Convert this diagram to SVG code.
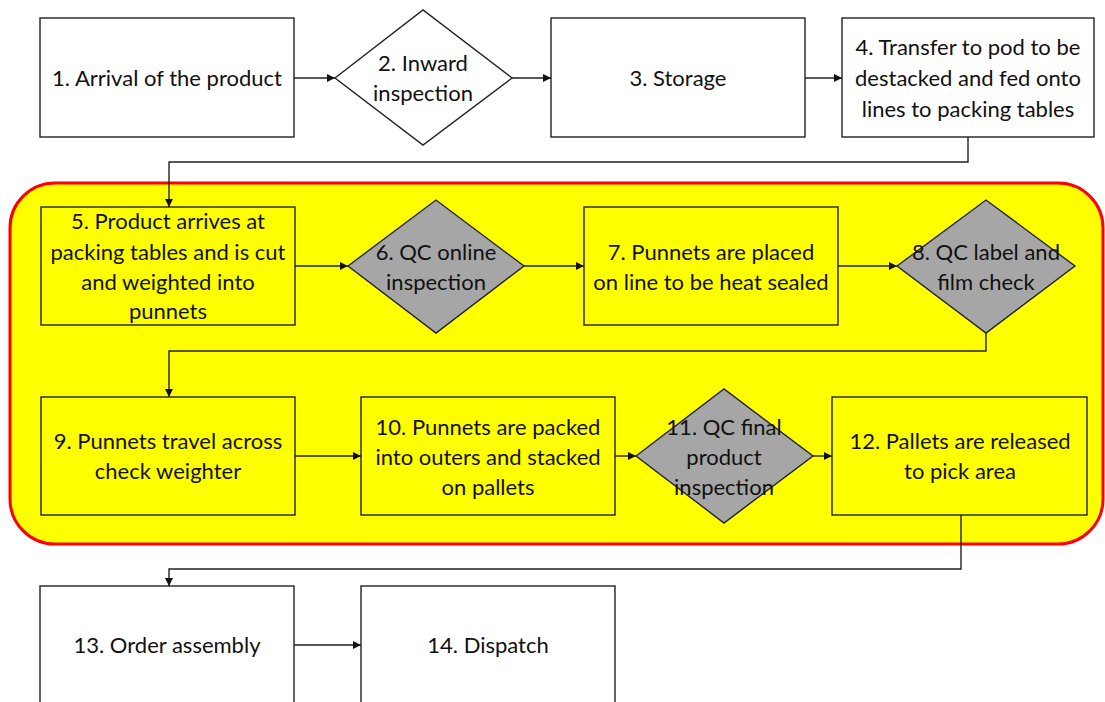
<svg xmlns="http://www.w3.org/2000/svg" width="1105" height="702" viewBox="0 0 1105 702">
<defs>
<marker id="ah" viewBox="0 0 10 10" refX="10" refY="5" markerWidth="9" markerHeight="8" markerUnits="userSpaceOnUse" orient="auto">
<path d="M0,0 L10,5 L0,10 z" fill="#111"/>
</marker>
<style>
.box{fill:#fff;stroke:#222;stroke-width:1.4}
.ybox{fill:#ffff00;stroke:#222;stroke-width:1.4}
.dia{fill:#a6a6a6;stroke:#222;stroke-width:1.4}
.wdia{fill:#fff;stroke:#222;stroke-width:1.4}
.t{font-family:Lato,"Open Sans",sans-serif;font-size:22px;fill:#111;text-anchor:middle}
.c{fill:none;stroke:#222;stroke-width:1.4;marker-end:url(#ah)}
</style>
</defs>
<rect width="1105" height="702" fill="#fff"/>
<rect id="region" x="10" y="183" width="1093" height="361" rx="45" fill="#ffff00" stroke="#ff0000" stroke-width="3"/>
<g id="connectors">
<path class="c" d="M294,78 H335"/>
<path class="c" d="M512,78 H551"/>
<path class="c" d="M805,78 H842"/>
<path class="c" d="M968,137 V162 H169 V207"/>
<path class="c" d="M295,266 H348"/>
<path class="c" d="M524,266 H584"/>
<path class="c" d="M838,266 H897"/>
<path class="c" d="M986,333 V351 H169 V397"/>
<path class="c" d="M295,456 H361"/>
<path class="c" d="M615,456 H636"/>
<path class="c" d="M813,456 H832"/>
<path class="c" d="M961,515 V569 H169 V586"/>
<path class="c" d="M294,645 H361"/>
</g>
<g id="n1"><rect class="box" x="40" y="18" width="254" height="119"/><text class="t" x="167" y="86">1. Arrival of the product</text></g>
<g id="n2"><polygon class="wdia" points="335,78 423,10 512,78 423,145"/><text class="t" x="423" y="71">2. Inward</text><text class="t" x="423" y="101">inspection</text></g>
<g id="n3"><rect class="box" x="551" y="18" width="254" height="119"/><text class="t" x="678" y="86">3. Storage</text></g>
<g id="n4"><rect class="box" x="842" y="18" width="252" height="119"/><text class="t" x="968" y="55">4. Transfer to pod to be</text><text class="t" x="968" y="86">destacked and fed onto</text><text class="t" x="968" y="117">lines to packing tables</text></g>
<g id="n5"><rect class="ybox" x="41" y="207" width="254" height="118"/><text class="t" x="168" y="229">5. Product arrives at</text><text class="t" x="168" y="260">packing tables and is cut</text><text class="t" x="168" y="290">and weighted into</text><text class="t" x="168" y="319">punnets</text></g>
<g id="n6"><polygon class="dia" points="348,266 436,200 524,266 436,333"/><text class="t" x="436" y="260">6. QC online</text><text class="t" x="436" y="290">inspection</text></g>
<g id="n7"><rect class="ybox" x="584" y="207" width="254" height="118"/><text class="t" x="711" y="260">7. Punnets are placed</text><text class="t" x="711" y="290">on line to be heat sealed</text></g>
<g id="n8"><polygon class="dia" points="897,266 986,200 1075,266 986,333"/><text class="t" x="986" y="260">8. QC label and</text><text class="t" x="986" y="290">film check</text></g>
<g id="n9"><rect class="ybox" x="41" y="397" width="254" height="118"/><text class="t" x="168" y="449">9. Punnets travel across</text><text class="t" x="168" y="479">check weighter</text></g>
<g id="n10"><rect class="ybox" x="361" y="397" width="254" height="118"/><text class="t" x="488" y="435">10. Punnets are packed</text><text class="t" x="488" y="465">into outers and stacked</text><text class="t" x="488" y="495">on pallets</text></g>
<g id="n11"><polygon class="dia" points="636,456 724,389 813,456 724,523"/><text class="t" x="724" y="435">11. QC final</text><text class="t" x="724" y="465">product</text><text class="t" x="724" y="495">inspection</text></g>
<g id="n12"><rect class="ybox" x="832" y="397" width="255" height="118"/><text class="t" x="960" y="449">12. Pallets are released</text><text class="t" x="960" y="479">to pick area</text></g>
<g id="n13"><rect class="box" x="40" y="586" width="254" height="119"/><text class="t" x="167" y="653">13. Order assembly</text></g>
<g id="n14"><rect class="box" x="361" y="586" width="254" height="119"/><text class="t" x="488" y="653">14. Dispatch</text></g>
</svg>
